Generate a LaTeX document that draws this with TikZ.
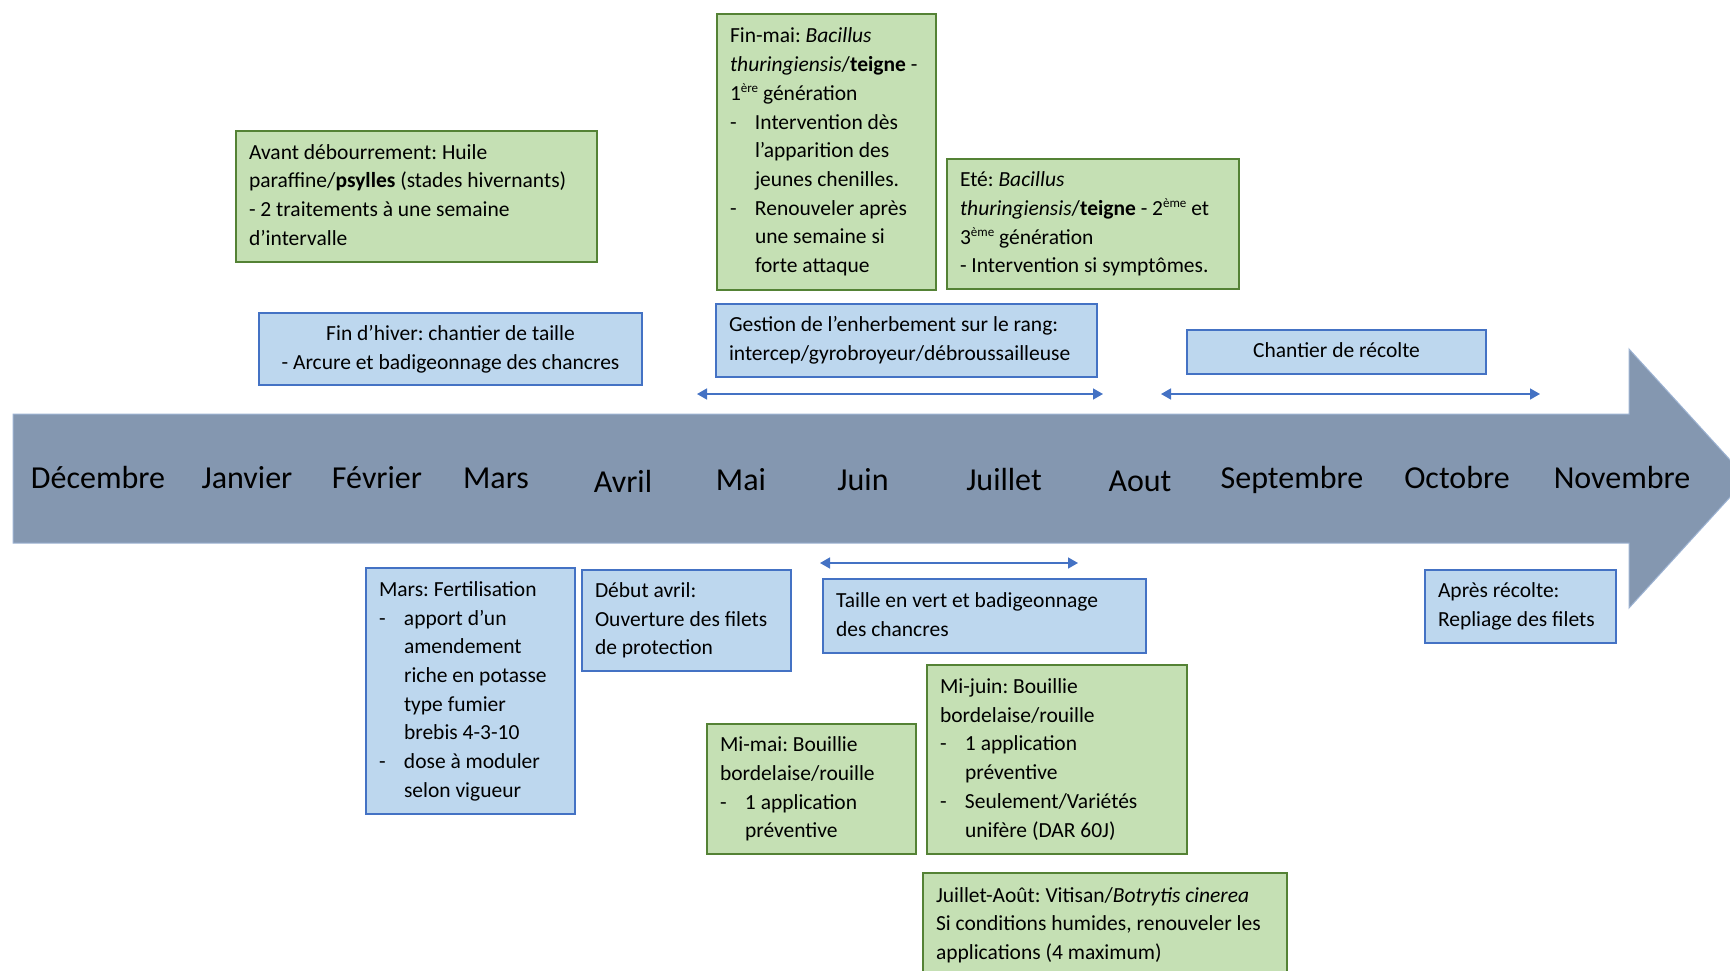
\documentclass[tikz,border=0pt]{standalone}
\usepackage{fontspec}
\setmainfont{Carlito}
\usetikzlibrary{arrows.meta}
\frenchspacing
\definecolor{gfill}{HTML}{C5E0B4}
\definecolor{gline}{HTML}{548235}
\definecolor{bfill}{HTML}{BDD7EE}
\definecolor{bline}{HTML}{4472C4}
\definecolor{tfill}{HTML}{8497B0}
\definecolor{tline}{HTML}{9DB3D3}
\newcommand{\lt}[2]{\makebox[#1][l]{\begin{tabular}{@{}l@{}}#2\end{tabular}}}
\newcommand{\ct}[2]{\makebox[#1][c]{\begin{tabular}{@{}c@{}}#2\end{tabular}}}
\newcommand{\dsh}{\makebox[25pt][l]{-}}
\newcommand{\hng}{\hspace*{25pt}}
\newcommand{\supr}[1]{\raisebox{0.75ex}{\fontsize{13}{13}\selectfont #1}}
\tikzset{
  boxbase/.style={line width=2pt, anchor=north west, inner xsep=13pt, inner ysep=0pt,
    font=\fontsize{21.5}{28.7}\selectfont\frenchspacing},
  gbox/.style={boxbase, fill=gfill, draw=gline},
  bbox/.style={boxbase, fill=bfill, draw=bline},
  month/.style={anchor=base, font=\fontsize{32}{38}\selectfont, inner sep=0pt},
  span/.style={draw=bline, line width=1.5pt, {Triangle[width=11pt,length=10pt]}-{Triangle[width=11pt,length=10pt]}},
}
\begin{document}
\begin{tikzpicture}[x=1pt,y=-1pt]
\useasboundingbox (0,0) rectangle (1730,970);
% timeline
\fill[tfill, draw=tline, line width=1pt] (13,414) -- (1629,414) -- (1629,349) -- (1747,478.5) -- (1629,608) -- (1629,543) -- (13,543) -- cycle;
\node[month] (m1) at (98,488) {Décembre};
\node[month] (m2) at (247,488) {Janvier};
\node[month] (m3) at (377,488) {Février};
\node[month] (m4) at (496,488) {Mars};
\node[month] (m5) at (623,492) {Avril};
\node[month] (m6) at (741,490) {Mai};
\node[month] (m7) at (863,490) {Juin};
\node[month] (m8) at (1004,490) {Juillet};
\node[month] (m9) at (1140,491) {Aout};
\node[month] (m10) at (1292,488) {Septembre};
\node[month] (m11) at (1457,488) {Octobre};
\node[month] (m12) at (1622,488) {Novembre};

% top boxes
\node[gbox, minimum width=361pt, minimum height=131pt] (avant) at (235,130)
 {\lt{335pt}{Avant débourrement: Huile\\ paraffine/\textbf{psylles} (stades hivernants)\\ - 2 traitements à une semaine\\ d’intervalle}};
\node[bbox, minimum width=383pt, minimum height=72pt] (finhiver) at (258,312)
 {\ct{357pt}{Fin d’hiver: chantier de taille\\ - Arcure et badigeonnage des chancres}};
\node[gbox, minimum width=219pt, minimum height=276pt] (finmai) at (716,13)
 {\lt{193pt}{Fin-mai: \textit{Bacillus}\\ \textit{thuringiensis}/\textbf{teigne} -\\ 1\supr{ère} génération\\
 \dsh Intervention dès\\ \hng l’apparition des\\ \hng jeunes chenilles.\\ \dsh Renouveler après\\ \hng une semaine si\\ \hng forte attaque}};
\node[gbox, minimum width=292pt, minimum height=130pt] (ete) at (946,158)
 {\lt{266pt}{Eté: \textit{Bacillus}\\ \textit{thuringiensis}/\textbf{teigne} - 2\supr{ème} et\\ 3\supr{ème} génération\\ - Intervention si symptômes.}};
\node[bbox, minimum width=381pt, minimum height=73pt] (gestion) at (715,303)
 {\lt{355pt}{Gestion de l’enherbement sur le rang:\\ intercep/gyrobroyeur/débroussailleuse}};
\node[bbox, minimum width=299pt, minimum height=44pt] (recolte) at (1186,329)
 {\ct{273pt}{Chantier de récolte}};

% spans
\coordinate (g1) at (697,394); \coordinate (g2) at (1103,394);
\coordinate (r1) at (1161,394); \coordinate (r2) at (1540,394);
\coordinate (t1) at (820,563); \coordinate (t2) at (1078,563);
\draw[span] (g1) -- (g2);
\draw[span] (r1) -- (r2);
\draw[span] (t1) -- (t2);

% bottom boxes
\node[bbox, minimum width=209pt, minimum height=246pt] (mars) at (365,567)
 {\lt{183pt}{Mars: Fertilisation\\ \dsh apport d’un\\ \hng amendement\\ \hng riche en potasse\\ \hng type fumier\\ \hng brebis 4-3-10\\ \dsh dose à moduler\\ \hng selon vigueur}};
\node[bbox, minimum width=209pt, minimum height=101pt] (debut) at (581,569)
 {\lt{183pt}{Début avril:\\ Ouverture des filets\\ de protection}};
\node[bbox, minimum width=323pt, minimum height=74pt] (taille) at (822,578)
 {\lt{297pt}{Taille en vert et badigeonnage\\ des chancres}};
\node[gbox, minimum width=260pt, minimum height=189pt] (mijuin) at (926,664)
 {\lt{234pt}{Mi-juin: Bouillie\\ bordelaise/rouille\\ \dsh 1 application\\ \hng préventive\\ \dsh Seulement/Variétés\\ \hng unifère (DAR 60J)}};
\node[gbox, minimum width=209pt, minimum height=130pt] (mimai) at (706,723)
 {\lt{183pt}{Mi-mai: Bouillie\\ bordelaise/rouille\\ \dsh 1 application\\ \hng préventive}};
\node[gbox, minimum width=364pt, minimum height=104pt] (juillet) at (922,872)
 {\lt{338pt}{Juillet-Août: Vitisan/\textit{Botrytis cinerea}\\ Si conditions humides, renouveler les\\ applications (4 maximum)}};
\node[bbox, minimum width=191pt, minimum height=73pt] (apres) at (1424,569)
 {\lt{165pt}{Après récolte:\\ Repliage des filets}};
\end{tikzpicture}
\end{document}
